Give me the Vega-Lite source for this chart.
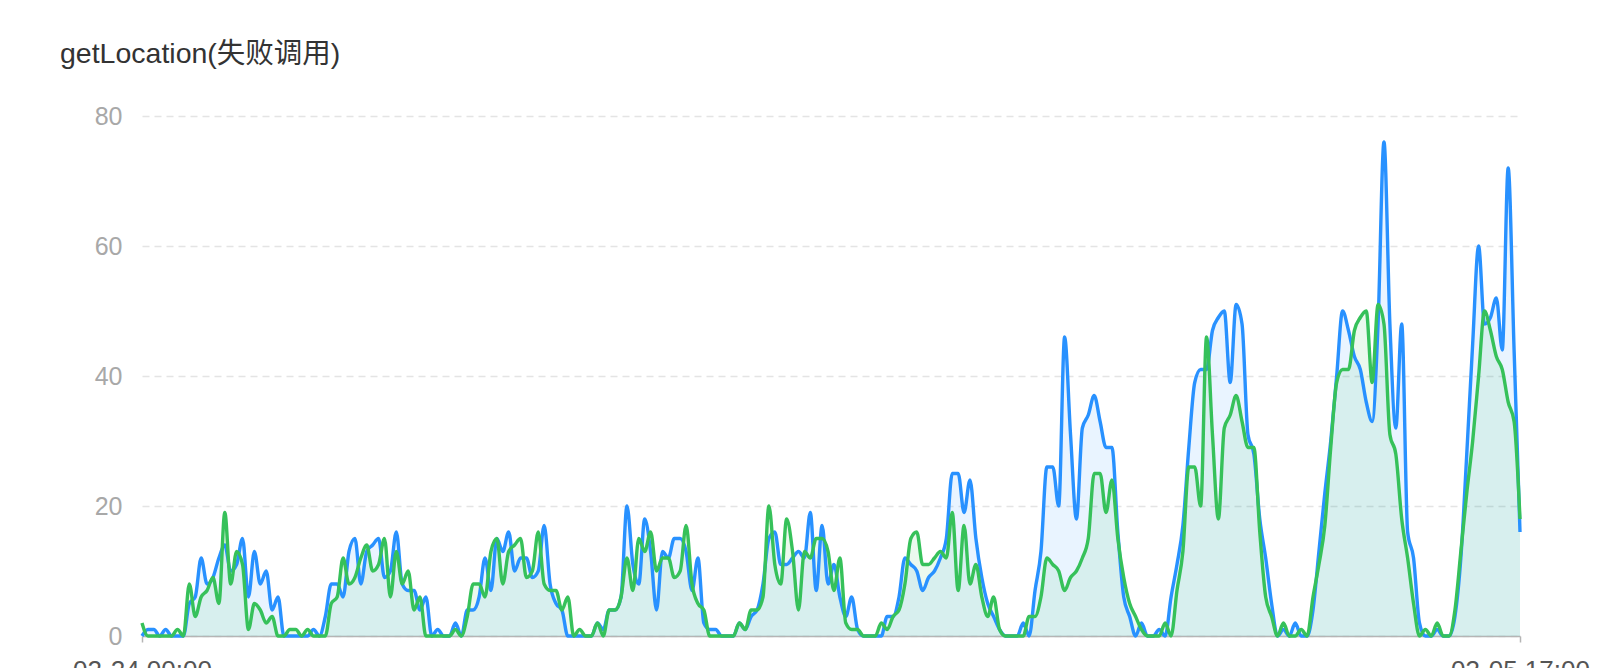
{
  "$schema": "https://vega.github.io/schema/vega-lite/v6.json",
  "width": 1378,
  "height": 520,
  "autosize": {"type": "none"},
  "padding": {"left": 142, "top": 116, "right": 86, "bottom": 32},
  "background": "white",
  "title": {"text": "getLocation(失败调用)", "anchor": "start", "frame": "group", "dx": -82, "fontSize": 28.5, "font": "Liberation Sans, Noto Sans CJK SC", "fontWeight": "normal", "color": "#333333", "baseline": "alphabetic", "offset": 13},
  "data": {"values": [
    {"t":"2025-02-24T00:00","b":0,"g":2},{"t":"2025-02-24T01:00","b":1,"g":0},{"t":"2025-02-24T02:00","b":1,"g":0},{"t":"2025-02-24T03:00","b":0,"g":0},{"t":"2025-02-24T04:00","b":1,"g":0},{"t":"2025-02-24T05:00","b":0,"g":0},{"t":"2025-02-24T06:00","b":0,"g":1},{"t":"2025-02-24T07:00","b":0,"g":0},{"t":"2025-02-24T08:00","b":5,"g":8},{"t":"2025-02-24T09:00","b":6,"g":3},{"t":"2025-02-24T10:00","b":12,"g":6},{"t":"2025-02-24T11:00","b":8,"g":7},{"t":"2025-02-24T12:00","b":9,"g":9},{"t":"2025-02-24T13:00","b":12,"g":5},{"t":"2025-02-24T14:00","b":14,"g":19},{"t":"2025-02-24T15:00","b":10,"g":8},{"t":"2025-02-24T16:00","b":11,"g":13},{"t":"2025-02-24T17:00","b":15,"g":11},{"t":"2025-02-24T18:00","b":6,"g":1},{"t":"2025-02-24T19:00","b":13,"g":5},{"t":"2025-02-24T20:00","b":8,"g":4},{"t":"2025-02-24T21:00","b":10,"g":2},{"t":"2025-02-24T22:00","b":4,"g":3},{"t":"2025-02-24T23:00","b":6,"g":0},
    {"t":"2025-02-25T00:00","b":0,"g":0},{"t":"2025-02-25T01:00","b":0,"g":1},{"t":"2025-02-25T02:00","b":0,"g":1},{"t":"2025-02-25T03:00","b":0,"g":0},{"t":"2025-02-25T04:00","b":0,"g":1},{"t":"2025-02-25T05:00","b":1,"g":0},{"t":"2025-02-25T06:00","b":0,"g":0},{"t":"2025-02-25T07:00","b":3,"g":0},{"t":"2025-02-25T08:00","b":8,"g":5},{"t":"2025-02-25T09:00","b":8,"g":6},{"t":"2025-02-25T10:00","b":6,"g":12},{"t":"2025-02-25T11:00","b":13,"g":8},{"t":"2025-02-25T12:00","b":15,"g":9},{"t":"2025-02-25T13:00","b":8,"g":12},{"t":"2025-02-25T14:00","b":13,"g":14},{"t":"2025-02-25T15:00","b":14,"g":10},{"t":"2025-02-25T16:00","b":15,"g":11},{"t":"2025-02-25T17:00","b":9,"g":15},{"t":"2025-02-25T18:00","b":10,"g":6},{"t":"2025-02-25T19:00","b":16,"g":13},{"t":"2025-02-25T20:00","b":8,"g":8},{"t":"2025-02-25T21:00","b":7,"g":10},{"t":"2025-02-25T22:00","b":7,"g":4},{"t":"2025-02-25T23:00","b":4,"g":6},
    {"t":"2025-02-26T00:00","b":6,"g":0},{"t":"2025-02-26T01:00","b":0,"g":0},{"t":"2025-02-26T02:00","b":1,"g":0},{"t":"2025-02-26T03:00","b":0,"g":0},{"t":"2025-02-26T04:00","b":0,"g":0},{"t":"2025-02-26T05:00","b":2,"g":1},{"t":"2025-02-26T06:00","b":0,"g":0},{"t":"2025-02-26T07:00","b":4,"g":3},{"t":"2025-02-26T08:00","b":4,"g":8},{"t":"2025-02-26T09:00","b":6,"g":8},{"t":"2025-02-26T10:00","b":12,"g":6},{"t":"2025-02-26T11:00","b":7,"g":13},{"t":"2025-02-26T12:00","b":15,"g":15},{"t":"2025-02-26T13:00","b":13,"g":8},{"t":"2025-02-26T14:00","b":16,"g":13},{"t":"2025-02-26T15:00","b":10,"g":14},{"t":"2025-02-26T16:00","b":12,"g":15},{"t":"2025-02-26T17:00","b":12,"g":9},{"t":"2025-02-26T18:00","b":9,"g":10},{"t":"2025-02-26T19:00","b":10,"g":16},{"t":"2025-02-26T20:00","b":17,"g":8},{"t":"2025-02-26T21:00","b":8,"g":7},{"t":"2025-02-26T22:00","b":5,"g":7},{"t":"2025-02-26T23:00","b":4,"g":4},
    {"t":"2025-02-27T00:00","b":0,"g":6},{"t":"2025-02-27T01:00","b":0,"g":0},{"t":"2025-02-27T02:00","b":0,"g":1},{"t":"2025-02-27T03:00","b":0,"g":0},{"t":"2025-02-27T04:00","b":0,"g":0},{"t":"2025-02-27T05:00","b":2,"g":2},{"t":"2025-02-27T06:00","b":1,"g":0},{"t":"2025-02-27T07:00","b":4,"g":4},{"t":"2025-02-27T08:00","b":4,"g":4},{"t":"2025-02-27T09:00","b":6,"g":6},{"t":"2025-02-27T10:00","b":20,"g":12},{"t":"2025-02-27T11:00","b":11,"g":7},{"t":"2025-02-27T12:00","b":8,"g":15},{"t":"2025-02-27T13:00","b":18,"g":13},{"t":"2025-02-27T14:00","b":13,"g":16},{"t":"2025-02-27T15:00","b":4,"g":10},{"t":"2025-02-27T16:00","b":13,"g":12},{"t":"2025-02-27T17:00","b":12,"g":12},{"t":"2025-02-27T18:00","b":15,"g":9},{"t":"2025-02-27T19:00","b":15,"g":10},{"t":"2025-02-27T20:00","b":13,"g":17},{"t":"2025-02-27T21:00","b":7,"g":8},{"t":"2025-02-27T22:00","b":12,"g":5},{"t":"2025-02-27T23:00","b":2,"g":4},
    {"t":"2025-02-28T00:00","b":1,"g":0},{"t":"2025-02-28T01:00","b":1,"g":0},{"t":"2025-02-28T02:00","b":0,"g":0},{"t":"2025-02-28T03:00","b":0,"g":0},{"t":"2025-02-28T04:00","b":0,"g":0},{"t":"2025-02-28T05:00","b":2,"g":2},{"t":"2025-02-28T06:00","b":1,"g":1},{"t":"2025-02-28T07:00","b":3,"g":4},{"t":"2025-02-28T08:00","b":4,"g":4},{"t":"2025-02-28T09:00","b":8,"g":6},{"t":"2025-02-28T10:00","b":15,"g":20},{"t":"2025-02-28T11:00","b":16,"g":11},{"t":"2025-02-28T12:00","b":11,"g":8},{"t":"2025-02-28T13:00","b":11,"g":18},{"t":"2025-02-28T14:00","b":12,"g":13},{"t":"2025-02-28T15:00","b":13,"g":4},{"t":"2025-02-28T16:00","b":12,"g":13},{"t":"2025-02-28T17:00","b":19,"g":12},{"t":"2025-02-28T18:00","b":7,"g":15},{"t":"2025-02-28T19:00","b":17,"g":15},{"t":"2025-02-28T20:00","b":8,"g":13},{"t":"2025-02-28T21:00","b":11,"g":7},{"t":"2025-02-28T22:00","b":6,"g":12},{"t":"2025-02-28T23:00","b":3,"g":2},
    {"t":"2025-03-01T00:00","b":6,"g":1},{"t":"2025-03-01T01:00","b":1,"g":1},{"t":"2025-03-01T02:00","b":0,"g":0},{"t":"2025-03-01T03:00","b":0,"g":0},{"t":"2025-03-01T04:00","b":0,"g":0},{"t":"2025-03-01T05:00","b":0,"g":2},{"t":"2025-03-01T06:00","b":3,"g":1},{"t":"2025-03-01T07:00","b":3,"g":3},{"t":"2025-03-01T08:00","b":6,"g":4},{"t":"2025-03-01T09:00","b":12,"g":8},{"t":"2025-03-01T10:00","b":11,"g":15},{"t":"2025-03-01T11:00","b":10,"g":16},{"t":"2025-03-01T12:00","b":7,"g":11},{"t":"2025-03-01T13:00","b":9,"g":11},{"t":"2025-03-01T14:00","b":10,"g":12},{"t":"2025-03-01T15:00","b":12,"g":13},{"t":"2025-03-01T16:00","b":15,"g":12},{"t":"2025-03-01T17:00","b":25,"g":19},{"t":"2025-03-01T18:00","b":25,"g":7},{"t":"2025-03-01T19:00","b":19,"g":17},{"t":"2025-03-01T20:00","b":24,"g":8},{"t":"2025-03-01T21:00","b":15,"g":11},{"t":"2025-03-01T22:00","b":9,"g":6},{"t":"2025-03-01T23:00","b":5,"g":3},
    {"t":"2025-03-02T00:00","b":3,"g":6},{"t":"2025-03-02T01:00","b":1,"g":1},{"t":"2025-03-02T02:00","b":0,"g":0},{"t":"2025-03-02T03:00","b":0,"g":0},{"t":"2025-03-02T04:00","b":0,"g":0},{"t":"2025-03-02T05:00","b":2,"g":0},{"t":"2025-03-02T06:00","b":0,"g":3},{"t":"2025-03-02T07:00","b":7,"g":3},{"t":"2025-03-02T08:00","b":13,"g":6},{"t":"2025-03-02T09:00","b":26,"g":12},{"t":"2025-03-02T10:00","b":26,"g":11},{"t":"2025-03-02T11:00","b":20,"g":10},{"t":"2025-03-02T12:00","b":46,"g":7},{"t":"2025-03-02T13:00","b":31,"g":9},{"t":"2025-03-02T14:00","b":18,"g":10},{"t":"2025-03-02T15:00","b":32,"g":12},{"t":"2025-03-02T16:00","b":34,"g":15},{"t":"2025-03-02T17:00","b":37,"g":25},{"t":"2025-03-02T18:00","b":33,"g":25},{"t":"2025-03-02T19:00","b":29,"g":19},{"t":"2025-03-02T20:00","b":29,"g":24},{"t":"2025-03-02T21:00","b":16,"g":15},{"t":"2025-03-02T22:00","b":6,"g":9},{"t":"2025-03-02T23:00","b":3,"g":5},
    {"t":"2025-03-03T00:00","b":0,"g":3},{"t":"2025-03-03T01:00","b":2,"g":1},{"t":"2025-03-03T02:00","b":0,"g":0},{"t":"2025-03-03T03:00","b":0,"g":0},{"t":"2025-03-03T04:00","b":1,"g":0},{"t":"2025-03-03T05:00","b":0,"g":2},{"t":"2025-03-03T06:00","b":6,"g":0},{"t":"2025-03-03T07:00","b":11,"g":7},{"t":"2025-03-03T08:00","b":17,"g":13},{"t":"2025-03-03T09:00","b":29,"g":26},{"t":"2025-03-03T10:00","b":39,"g":26},{"t":"2025-03-03T11:00","b":41,"g":20},{"t":"2025-03-03T12:00","b":41,"g":46},{"t":"2025-03-03T13:00","b":47,"g":31},{"t":"2025-03-03T14:00","b":49,"g":18},{"t":"2025-03-03T15:00","b":50,"g":32},{"t":"2025-03-03T16:00","b":39,"g":34},{"t":"2025-03-03T17:00","b":51,"g":37},{"t":"2025-03-03T18:00","b":48,"g":33},{"t":"2025-03-03T19:00","b":31,"g":29},{"t":"2025-03-03T20:00","b":28,"g":29},{"t":"2025-03-03T21:00","b":18,"g":16},{"t":"2025-03-03T22:00","b":12,"g":6},{"t":"2025-03-03T23:00","b":5,"g":3},
    {"t":"2025-03-04T00:00","b":0,"g":0},{"t":"2025-03-04T01:00","b":1,"g":2},{"t":"2025-03-04T02:00","b":0,"g":0},{"t":"2025-03-04T03:00","b":2,"g":0},{"t":"2025-03-04T04:00","b":0,"g":1},{"t":"2025-03-04T05:00","b":0,"g":0},{"t":"2025-03-04T06:00","b":4,"g":6},{"t":"2025-03-04T07:00","b":13,"g":11},{"t":"2025-03-04T08:00","b":22,"g":17},{"t":"2025-03-04T09:00","b":30,"g":29},{"t":"2025-03-04T10:00","b":40,"g":39},{"t":"2025-03-04T11:00","b":50,"g":41},{"t":"2025-03-04T12:00","b":47,"g":41},{"t":"2025-03-04T13:00","b":43,"g":47},{"t":"2025-03-04T14:00","b":41,"g":49},{"t":"2025-03-04T15:00","b":36,"g":50},{"t":"2025-03-04T16:00","b":33,"g":39},{"t":"2025-03-04T17:00","b":48,"g":51},{"t":"2025-03-04T18:00","b":76,"g":48},{"t":"2025-03-04T19:00","b":48,"g":31},{"t":"2025-03-04T20:00","b":32,"g":28},{"t":"2025-03-04T21:00","b":48,"g":18},{"t":"2025-03-04T22:00","b":16,"g":12},{"t":"2025-03-04T23:00","b":12,"g":5},
    {"t":"2025-03-05T00:00","b":2,"g":0},{"t":"2025-03-05T01:00","b":0,"g":1},{"t":"2025-03-05T02:00","b":0,"g":0},{"t":"2025-03-05T03:00","b":1,"g":2},{"t":"2025-03-05T04:00","b":0,"g":0},{"t":"2025-03-05T05:00","b":0,"g":0},{"t":"2025-03-05T06:00","b":3,"g":4},{"t":"2025-03-05T07:00","b":12,"g":13},{"t":"2025-03-05T08:00","b":28,"g":22},{"t":"2025-03-05T09:00","b":45,"g":30},{"t":"2025-03-05T10:00","b":60,"g":40},{"t":"2025-03-05T11:00","b":48,"g":50},{"t":"2025-03-05T12:00","b":49,"g":47},{"t":"2025-03-05T13:00","b":52,"g":43},{"t":"2025-03-05T14:00","b":44,"g":41},{"t":"2025-03-05T15:00","b":72,"g":36},{"t":"2025-03-05T16:00","b":44,"g":33},{"t":"2025-03-05T17:00","b":16,"g":18}
  ]},
  "encoding": {
    "x": {
      "field": "t",
      "type": "temporal",
      "scale": {"nice": false},
      "axis": {
        "title": null,
        "values": [{"year": 2025, "month": 2, "date": 24, "hours": 0}, {"year": 2025, "month": 3, "date": 5, "hours": 17}],
        "format": "%m-%d %H:%M",
        "grid": false,
        "domain": true,
        "domainColor": "#b5b5b5",
        "domainWidth": 1.5,
        "ticks": true,
        "tickColor": "#b5b5b5",
        "tickSize": 6,
        "tickWidth": 1.5,
        "labelColor": "#555555",
        "labelFontSize": 26,
        "labelFont": "Liberation Sans",
        "labelPadding": 15,
        "labelFlush": false,
        "labelOverlap": false
      }
    }
  },
  "config": {
    "view": {"stroke": null},
    "axisY": {
      "grid": true,
      "gridColor": "#e4e4e4",
      "gridDash": [7, 5],
      "gridWidth": 1.5,
      "domain": false,
      "ticks": false,
      "labelColor": "#a8a8a8",
      "labelFontSize": 25,
      "labelFont": "Liberation Sans",
      "labelPadding": 20
    }
  },
  "layer": [
    {
      "mark": {"type": "area", "interpolate": "monotone", "color": "#2891ff", "opacity": 0.1},
      "encoding": {"y": {"field": "b", "type": "quantitative", "scale": {"domain": [0, 80], "nice": false}, "axis": {"title": null, "values": [0, 20, 40, 60, 80]}}}
    },
    {
      "mark": {"type": "area", "interpolate": "monotone", "color": "#36c15a", "opacity": 0.1},
      "encoding": {"y": {"field": "g", "type": "quantitative", "scale": {"domain": [0, 80], "nice": false}, "axis": {"title": null, "values": [0, 20, 40, 60, 80]}}}
    },
    {
      "mark": {"type": "line", "interpolate": "monotone", "color": "#2891ff", "strokeWidth": 3.4},
      "encoding": {"y": {"field": "b", "type": "quantitative", "scale": {"domain": [0, 80], "nice": false}, "axis": {"title": null, "values": [0, 20, 40, 60, 80]}}}
    },
    {
      "mark": {"type": "line", "interpolate": "monotone", "color": "#36c15a", "strokeWidth": 3.4},
      "encoding": {"y": {"field": "g", "type": "quantitative", "scale": {"domain": [0, 80], "nice": false}, "axis": {"title": null, "values": [0, 20, 40, 60, 80]}}}
    }
  ]
}
